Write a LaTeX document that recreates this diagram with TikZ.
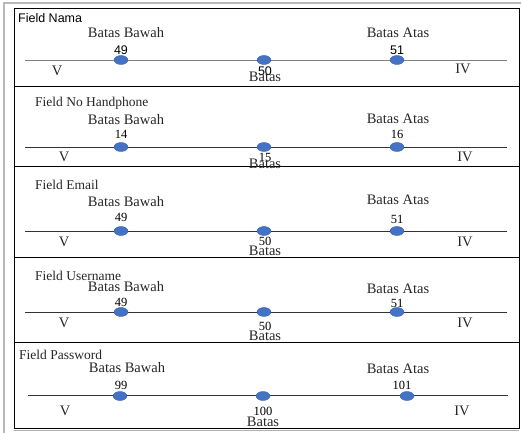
\documentclass[tikz,border=0pt]{standalone}
\usepackage{fontspec}
\setmainfont{Liberation Serif}
\newfontfamily\sansf{Liberation Sans}
\usetikzlibrary{shapes.geometric}
\definecolor{dotblue}{HTML}{4472C4}
\definecolor{dotedge}{HTML}{3A62A8}
\begin{document}
\begin{tikzpicture}[x=1pt,y=-1pt,
  titik/.style={ellipse, fill=dotblue, draw=dotedge, line width=0.4pt, minimum width=14pt, minimum height=9pt, inner sep=0pt},
  lbl/.style={font=\fontsize{14.5}{16}\selectfont, inner sep=0pt, text=black!85},
  num/.style={font=\fontsize{12.5}{14}\selectfont, inner sep=0pt},
  snum/.style={font=\sansf\fontsize{12.5}{14}\selectfont, inner sep=0pt},
  ttl/.style={font=\fontsize{13.5}{15}\selectfont, inner sep=0pt, anchor=west, text=black!85},
  sttl/.style={font=\sansf\fontsize{12.5}{14}\selectfont, inner sep=0pt, anchor=west},
  garis/.style={line width=0.9pt, draw=black!80},
  frame/.style={line width=1pt, draw=black}]
\useasboundingbox (0,0) rectangle (523,433);
% page edges
\draw[gray!55, line width=1.2pt] (4,433) -- (4,3) -- (521,3);
\draw[gray!60, line width=0.8pt] (14,430.5) -- (519,430.5);
% frame and separators
\draw[frame] (14,9) rectangle (519,428);
\draw[frame] (14,87) -- (519,87);
\draw[frame] (14,167) -- (519,167);
\draw[frame] (14,258) -- (519,258);
\draw[frame] (14,343) -- (519,343);

% ---------- Row 1 ----------
\node[sttl] (r1t) at (18,18) {Field Nama};
\node[lbl] (r1bb) at (126,33) {Batas Bawah};
\node[lbl] (r1ba) at (398,33) {Batas Atas};
\coordinate (r1a) at (25,60);
\coordinate (r1b) at (507,60);
\draw[garis, draw=black!50] (r1a) -- (r1b);
\node[titik] (r1d1) at (121,60) {};
\node[titik] (r1d2) at (264,60) {};
\node[titik] (r1d3) at (397,60) {};
\node[snum] (r1n1) at (121,50) {49};
\node[snum] (r1n3) at (397,50) {51};
\node[snum] (r1n2) at (265,71) {50};
\node[lbl] (r1bt) at (265,77) {Batas};
\node[lbl] (r1v) at (57,71) {V};
\node[lbl] (r1iv) at (463,69) {IV};

% ---------- Row 2 ----------
\node[ttl] (r2t) at (35,103) {Field No Handphone};
\node[lbl] (r2bb) at (126,120) {Batas Bawah};
\node[lbl] (r2ba) at (398,119) {Batas Atas};
\coordinate (r2a) at (25,147);
\coordinate (r2b) at (507,147);
\draw[garis] (r2a) -- (r2b);
\node[titik] (r2d1) at (121,147) {};
\node[titik] (r2d2) at (264,147) {};
\node[titik] (r2d3) at (397,147) {};
\node[num] (r2n1) at (121,134) {14};
\node[num] (r2n3) at (397,134) {16};
\node[num] (r2n2) at (265,157) {15};
\node[lbl] (r2bt) at (265,164) {Batas};
\node[lbl] (r2v) at (64,157) {V};
\node[lbl] (r2iv) at (465,157) {IV};

% ---------- Row 3 ----------
\node[ttl] (r3t) at (35,185) {Field Email};
\node[lbl] (r3bb) at (126,202) {Batas Bawah};
\node[lbl] (r3ba) at (398,200) {Batas Atas};
\coordinate (r3a) at (25,231);
\coordinate (r3b) at (507,231);
\draw[garis] (r3a) -- (r3b);
\node[titik] (r3d1) at (121,231) {};
\node[titik] (r3d2) at (264,231) {};
\node[titik] (r3d3) at (397,231) {};
\node[num] (r3n1) at (121,217) {49};
\node[num] (r3n3) at (397,219) {51};
\node[num] (r3n2) at (265,241) {50};
\node[lbl] (r3bt) at (265,251) {Batas};
\node[lbl] (r3v) at (64,242) {V};
\node[lbl] (r3iv) at (465,242) {IV};

% ---------- Row 4 ----------
\node[ttl] (r4t) at (35,276) {Field Username};
\node[lbl] (r4bb) at (126,287) {Batas Bawah};
\node[lbl] (r4ba) at (398,289) {Batas Atas};
\coordinate (r4a) at (25,312);
\coordinate (r4b) at (507,312);
\draw[garis] (r4a) -- (r4b);
\node[titik] (r4d1) at (121,312) {};
\node[titik] (r4d2) at (264,312) {};
\node[titik] (r4d3) at (397,312) {};
\node[num] (r4n1) at (121,302) {49};
\node[num] (r4n3) at (397,303) {51};
\node[num] (r4n2) at (265,326) {50};
\node[lbl] (r4bt) at (265,336) {Batas};
\node[lbl] (r4v) at (64,323) {V};
\node[lbl] (r4iv) at (465,323) {IV};

% ---------- Row 5 ----------
\node[ttl] (r5t) at (19,355) {Field Password};
\node[lbl] (r5bb) at (127,368) {Batas Bawah};
\node[lbl] (r5ba) at (398,369) {Batas Atas};
\coordinate (r5a) at (28,395);
\coordinate (r5b) at (508,395);
\draw[garis] (r5a) -- (r5b);
\node[titik] (r5d1) at (120,396) {};
\node[titik] (r5d2) at (263,396) {};
\node[titik] (r5d3) at (407,396) {};
\node[num] (r5n1) at (121,385) {99};
\node[num] (r5n3) at (402,385) {101};
\node[num] (r5n2) at (263,411) {100};
\node[lbl] (r5bt) at (263,422) {Batas};
\node[lbl] (r5v) at (65,411) {V};
\node[lbl] (r5iv) at (462,411) {IV};
\end{tikzpicture}
\end{document}
